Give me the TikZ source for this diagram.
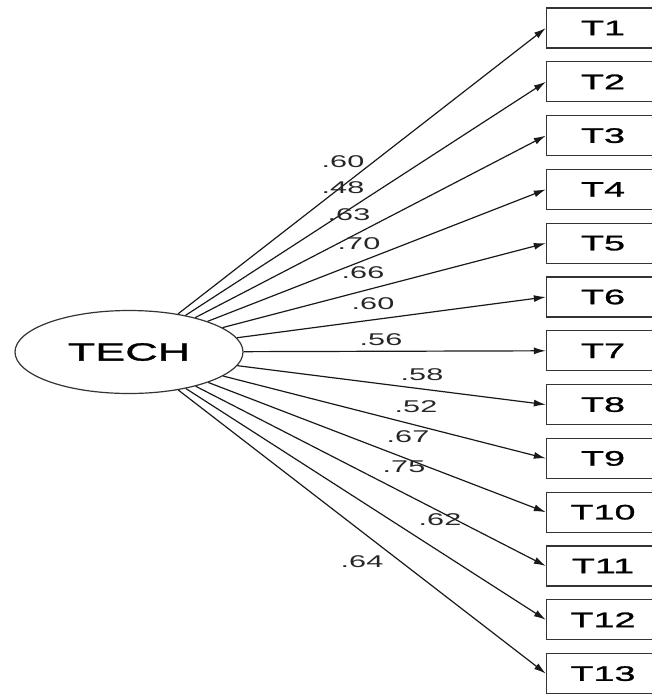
\documentclass[tikz,border=0pt]{standalone}
\usepackage{fontspec}
\newfontfamily\amosfont[FakeStretch=1.8]{Liberation Sans}
\newfontfamily\amosboxfont[FakeStretch=1.8,FakeBold=1.2]{Liberation Sans}
\usetikzlibrary{positioning,shapes.geometric,arrows.meta}

\begin{document}
\begin{tikzpicture}[
  x=1pt, y=-1pt,
  node distance=12.5pt,
  every node/.style={font=\amosfont},
  obsbox/.style={draw=black!80, line width=1.3pt, minimum width=113pt, minimum height=40pt, inner sep=0pt, font=\amosboxfont\fontsize{21}{21}\selectfont},
  latvar/.style={ellipse, draw=black!80, line width=1.2pt, minimum width=228pt, minimum height=83pt, inner sep=0pt, font=\amosboxfont\fontsize{25}{25}\selectfont},
  wlabel/.style={inner sep=0pt, text=black!85, font=\amosfont\fontsize{17}{17}\selectfont},
  loadarrow/.style={-{Latex[length=12pt,width=7pt]}, line width=1.2pt, draw=black!90}
]
\useasboundingbox (0,0) rectangle (652,694);

\node[latvar] (tech) at (129,352) {TECH};

\node[obsbox] (t1) at (603,28) {T1};
\node[obsbox, below=of t1] (t2) {T2};
\node[obsbox, below=of t2] (t3) {T3};
\node[obsbox, below=of t3] (t4) {T4};
\node[obsbox, below=of t4] (t5) {T5};
\node[obsbox, below=of t5] (t6) {T6};
\node[obsbox, below=of t6] (t7) {T7};
\node[obsbox, below=of t7] (t8) {T8};
\node[obsbox, below=of t8] (t9) {T9};
\node[obsbox, below=of t9] (t10) {T10};
\node[obsbox, below=of t10] (t11) {T11};
\node[obsbox, below=of t11] (t12) {T12};
\node[obsbox, below=of t12] (t13) {T13};

\draw[loadarrow] (tech) -- (t1.west);
\draw[loadarrow] (tech) -- (t2.west);
\draw[loadarrow] (tech) -- (t3.west);
\draw[loadarrow] (tech) -- (t4.west);
\draw[loadarrow] (tech) -- (t5.west);
\draw[loadarrow] (tech) -- (t6.west);
\draw[loadarrow] (tech) -- (t7.west);
\draw[loadarrow] (tech) -- (t8.west);
\draw[loadarrow] (tech) -- (t9.west);
\draw[loadarrow] (tech) -- (t10.west);
\draw[loadarrow] (tech) -- (t11.west);
\draw[loadarrow] (tech) -- (t12.west);
\draw[loadarrow] (tech) -- (t13.west);

% loadings
\node[wlabel] (l1) at (343,162) {.60};
\node[wlabel] (l2) at (343,188) {.48};
\node[wlabel] (l3) at (349,215) {.63};
\node[wlabel] (l4) at (359,244) {.70};
\node[wlabel] (l5) at (363,273) {.66};
\node[wlabel] (l6) at (373,304) {.60};
\node[wlabel] (l7) at (381,340) {.56};
\node[wlabel] (l8) at (422,375) {.58};
\node[wlabel] (l9) at (416,407) {.52};
\node[wlabel] (l10) at (408,437) {.67};
\node[wlabel] (l11) at (404,467) {.75};
\node[wlabel] (l12) at (440,520) {.62};
\node[wlabel] (l13) at (362,562) {.64};
\end{tikzpicture}
\end{document}
